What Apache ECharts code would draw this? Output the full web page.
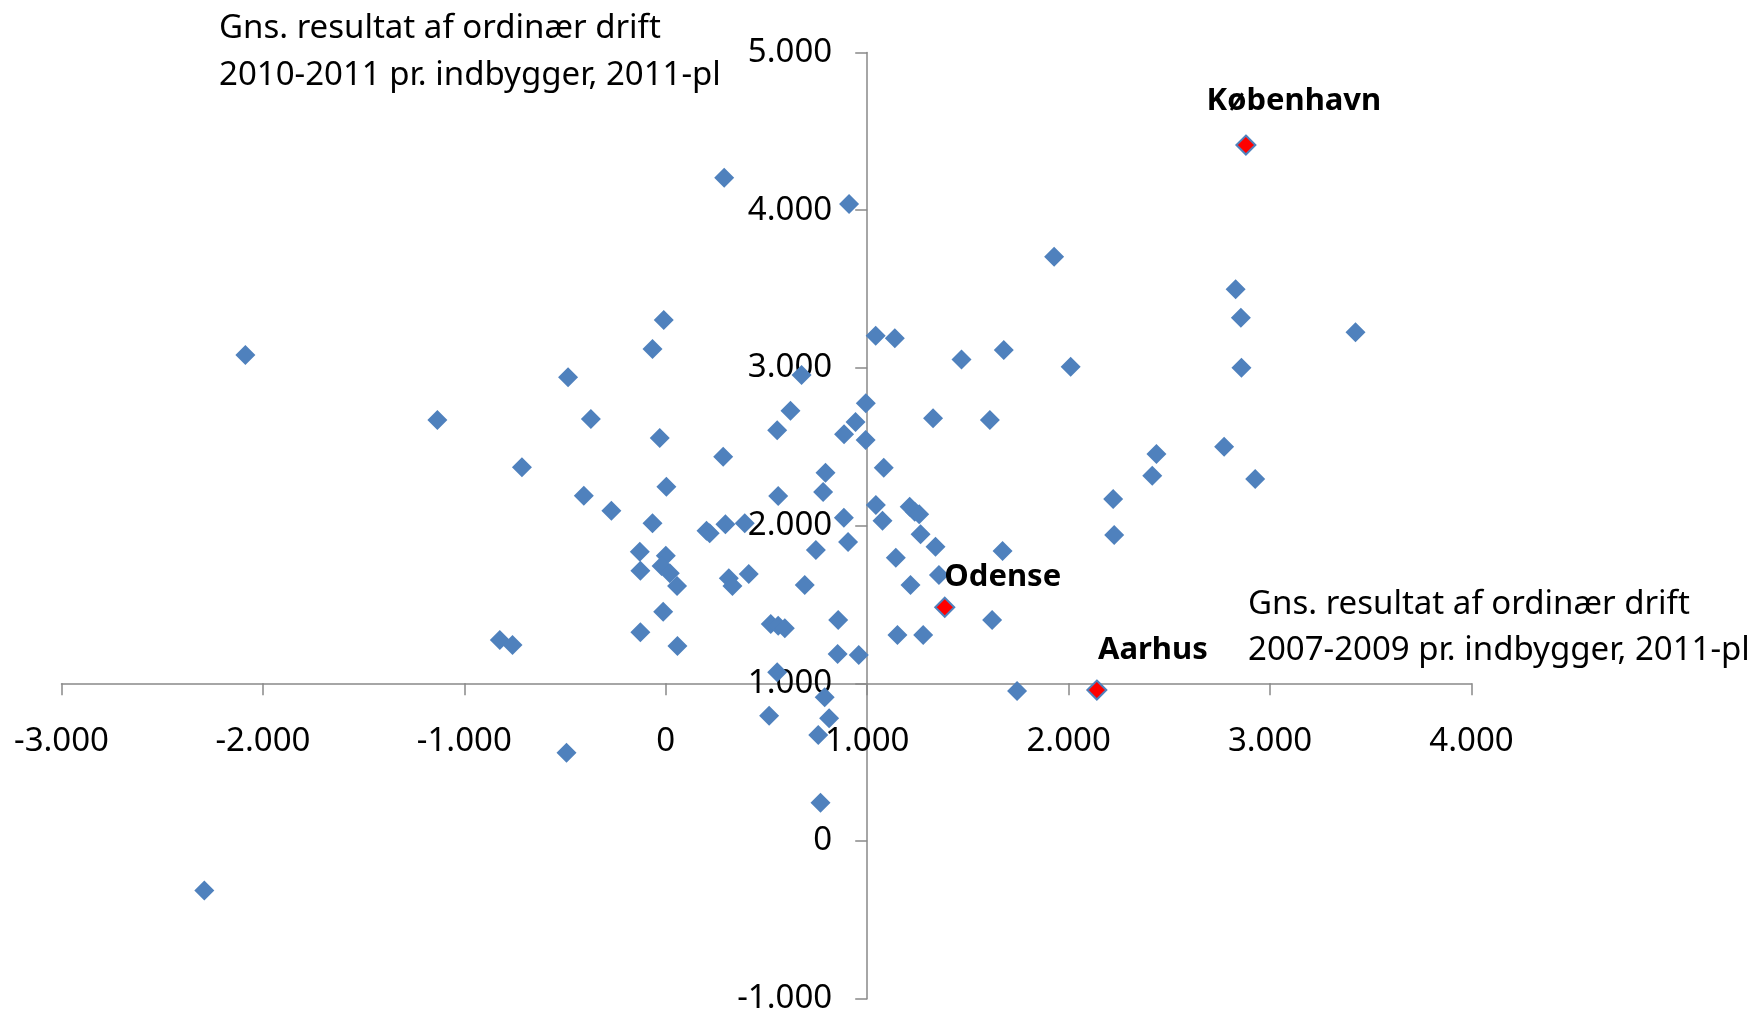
<!DOCTYPE html>
<html>
<head>
<meta charset="utf-8">
<title>Gns. resultat af ordinær drift pr. indbygger</title>
<style>
	html, body { margin: 0; padding: 0; background: #fff; }
	#main { width: 1752px; height: 1013px; }
</style>
</head>
<body>
<div id="main"></div>

<script src="https://cdn.jsdelivr.net/npm/echarts@6/dist/echarts.min.js"></script>
<script>
// x: gns. 2007-2009, y: gns. 2010-2011 (kr. pr. indbygger, 2011-pl)
var kommuneX = [-2087, -2291, -1134, -714, -485, -372, -407, -270, -66, -10,
	-30, 3, -66, -129, -126, 0, -21, 20, 56, -13,
	-126, 58, -824, -761, -493, 290, 285, 202, 218, 296,
	392, 313, 331, 412, 553, 558, 674, 619, 793, 781,
	885, 942, 993, 992, 884, 905, 745, 690, 521, 558,
	591, 856, 853, 958, 553, 789, 811, 513, 757, 768,
	910, 1042, 1137, 1043, 1076, 1082, 1142, 1211, 1236, 1258,
	1265, 1339, 1356, 1215, 1150, 1278, 1327, 1468, 1678, 1609,
	1672, 1620, 1744, 1928, 2010, 2221, 2226, 2415, 2436, 2772,
	2829, 2855, 2858, 2926, 3424];
var kommuneY = [3082, -314, 2670, 2370, 2940, 2676, 2190, 2094, 3120, 3304,
	2555, 2247, 2015, 1834, 1714, 1809, 1744, 1698, 1617, 1454,
	1323, 1237, 1275, 1243, 560, 4206, 2437, 1968, 1951, 2008,
	2015, 1666, 1617, 1693, 2604, 2188, 2955, 2729, 2335, 2213,
	2579, 2657, 2776, 2543, 2050, 1896, 1845, 1623, 1376, 1365,
	1349, 1401, 1186, 1179, 1070, 911, 778, 795, 672, 243,
	4039, 3204, 3188, 2131, 2031, 2367, 1796, 2120, 2088, 2072,
	1945, 1866, 1687, 1623, 1306, 1306, 2680, 3054, 3114, 2670,
	1839, 1401, 951, 3705, 3008, 2169, 1940, 2316, 2454, 2500,
	3498, 3318, 3001, 2295, 3226];

var byNavne = ['København', 'Odense', 'Aarhus'];
var byX = [2880, 1385, 2140];
var byY = [4413, 1482, 957];

var xRange = [-3000, 4000];
var yRange = [-1000, 5000];
var tickStep = 1000;
var krydsVaerdi = 1000; // akserne krydser ved 1.000

var byLabelOffset = [[48, -14], [58, 0], [56, -10]];

function fmt(v) {
	var s = String(Math.abs(v)).replace(/\B(?=(\d{3})+(?!\d))/g, '.');
	return (v < 0 ? '-' : '') + s;
}

var kommuner = kommuneX.map(function (x, i) { return [x, kommuneY[i]]; });
var byer = byNavne.map(function (n, i) {
	return { name: n, value: [byX[i], byY[i]], label: { offset: byLabelOffset[i] } };
});

var axisGray = '#898989';
var font = 'Noto Sans';

var myChart = echarts.init(document.getElementById('main'));
var option = {
	animation: false,
	backgroundColor: '#fff',
	title: [{
		text: 'Gns. resultat af ordinær drift\n2010-2011 pr. indbygger, 2011-pl',
		left: 219, top: 5, padding: 0,
		textStyle: { fontFamily: font, fontSize: 33, fontWeight: 'normal', color: '#000', lineHeight: 47 }
	}, {
		text: 'Gns. resultat af ordinær drift\n2007-2009 pr. indbygger, 2011-pl',
		left: 1248, top: 582, padding: 0,
		textStyle: { fontFamily: font, fontSize: 33, fontWeight: 'normal', color: '#000', lineHeight: 46 }
	}],
	grid: { left: 61.5, right: 280.5, top: 52.5, bottom: 14.3, outerBoundsMode: 'none' },
	xAxis: {
		type: 'value',
		min: xRange[0], max: xRange[1], interval: tickStep,
		axisLine: { show: true, onZero: false, lineStyle: { color: axisGray, width: 1.5 } },
		axisTick: { show: true, length: 12, lineStyle: { color: axisGray, width: 1.5 } },
		axisLabel: { margin: 42, fontFamily: font, fontSize: 33, color: '#000', formatter: fmt },
		splitLine: { show: false }
	},
	yAxis: {
		type: 'value',
		min: yRange[0], max: yRange[1], interval: tickStep,
		axisLine: { show: true, onZero: false, lineStyle: { color: axisGray, width: 1.5 } },
		axisTick: { show: true, length: 12, lineStyle: { color: axisGray, width: 1.5 } },
		axisLabel: { margin: 35, fontFamily: font, fontSize: 33, color: '#000', formatter: fmt },
		splitLine: { show: false }
	},
	series: [{
		name: 'Kommuner',
		type: 'scatter',
		symbol: 'diamond',
		symbolSize: 20,
		itemStyle: { color: '#4F81BD', opacity: 1 },
		data: kommuner
	}, {
		name: 'Storbyer',
		type: 'scatter',
		symbol: 'diamond',
		symbolSize: 19,
		z: 3,
		itemStyle: { color: '#FF0000', borderColor: '#4F81BD', borderWidth: 2, opacity: 1 },
		label: {
			show: true, position: 'top', distance: 4, formatter: '{b}',
			fontFamily: font, fontSize: 31, fontWeight: 'bold', color: '#000'
		},
		data: byer
	}]
};
myChart.setOption(option);

// flyt akserne, saa de krydser ved 1.000 i stedet for i kanten
// (to gange, hvis grid'et har flyttet sig efter foerste omgang)
for (var k = 0; k < 3; k++) {
	var kryds = myChart.convertToPixel({ gridIndex: 0 }, [krydsVaerdi, krydsVaerdi]);
	var hjoerne = myChart.convertToPixel({ gridIndex: 0 }, [xRange[0], yRange[0]]);
	myChart.setOption({
		xAxis: { offset: kryds[1] - hjoerne[1] },
		yAxis: { offset: hjoerne[0] - kryds[0] }
	});
}
</script>
</body>
</html>
